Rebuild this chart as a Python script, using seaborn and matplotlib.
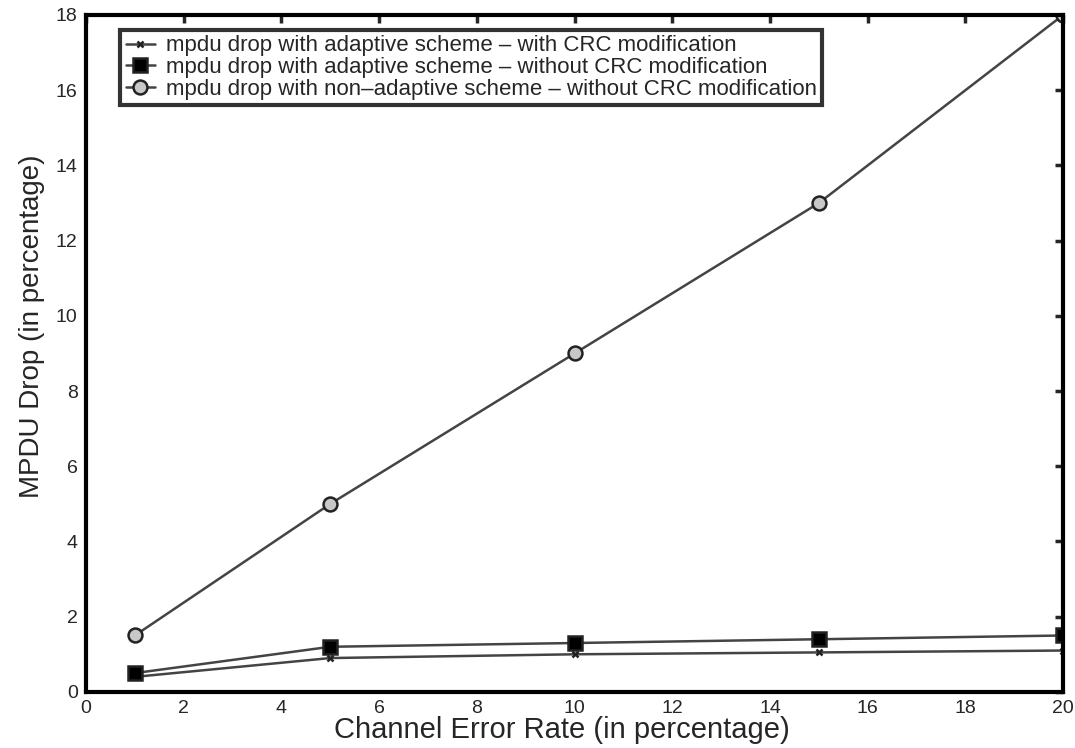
import matplotlib
matplotlib.use("Agg")
import matplotlib.pyplot as plt
import seaborn as sns
import pandas as pd

x_vals = [1, 5, 10, 15, 20]
with_crc = [0.4, 0.9, 1.0, 1.05, 1.1]
without_crc = [0.5, 1.2, 1.3, 1.4, 1.5]
non_adaptive = [1.5, 5.0, 9.0, 13.0, 18.0]
labels = ["mpdu drop with adaptive scheme \u2013 with CRC modification",
          "mpdu drop with adaptive scheme \u2013 without CRC modification",
          "mpdu drop with non\u2013adaptive scheme \u2013 without CRC modification"]

sns.set_style("white")
plt.rcParams['font.family'] = ['Liberation Sans', 'DejaVu Sans']

fig = plt.figure(figsize=(10.75, 7.48), dpi=100)
ax = fig.add_axes([0.080, 0.075, 0.909, 0.905])

series = [with_crc, without_crc, non_adaptive]
markers = ["x", "s", "o"]
mfcs = ["#333333", "black", "#c8c8c8"]
msizes = [5, 9.5, 10]
for vals, lab, m, fc, ms in zip(series, labels, markers, mfcs, msizes):
    df = pd.DataFrame({"x": x_vals, "y": vals})
    sns.lineplot(data=df, x="x", y="y", ax=ax, color="#444444", lw=1.8,
                 marker=m, markersize=ms, markerfacecolor=fc,
                 markeredgecolor="#222222", markeredgewidth=1.8, label=lab)

ax.set_xlim(0, 20)
ax.set_ylim(0, 18)
ax.set_xticks(range(0, 21, 2))
ax.set_yticks(range(0, 19, 2))
ax.tick_params(direction="in", length=6, width=2.5, top=True, right=True,
               labelsize=14, pad=6)
for sp in ax.spines.values():
    sp.set_linewidth(3)
    sp.set_color("black")
ax.set_xlabel("Channel Error Rate (in percentage)", fontsize=21)
ax.set_ylabel("MPDU Drop (in percentage)", fontsize=20)
ax.xaxis.set_label_coords(0.487, -0.036, transform=ax.transAxes)
ax.yaxis.set_label_coords(-0.042, 0.54, transform=ax.transAxes)
ax.xaxis.label.set_va("top")

leg = ax.legend(loc="upper left", bbox_to_anchor=(0.035, 0.978), fontsize=16,
                frameon=True, fancybox=False, handlelength=1.3,
                borderpad=0.25, labelspacing=0.03, handletextpad=0.5,
                borderaxespad=0)
leg.get_frame().set_edgecolor("black")
leg.get_frame().set_linewidth(3)

fig.savefig("out.png", dpi=100)
